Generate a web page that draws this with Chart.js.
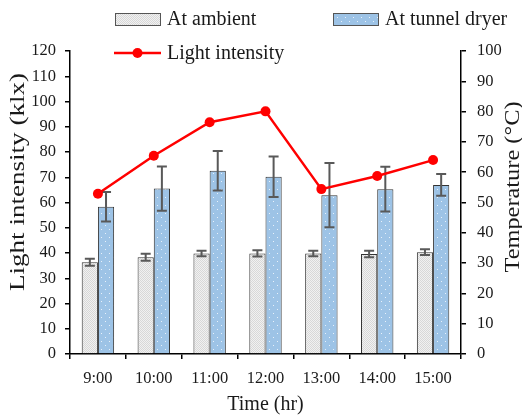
<!DOCTYPE html>
<html>
<head>
<meta charset="utf-8">
<script src="https://cdn.jsdelivr.net/npm/chart.js@4.4.1/dist/chart.umd.min.js"></script>
<style>
  html, body { margin: 0; padding: 0; background: #fff; }
  #wrap { width: 522px; height: 417px; }
</style>
</head>
<body>
<div id="wrap"><canvas id="c" width="522" height="417"></canvas></div>
<script>
// ---- data ----
const categories = ['9:00', '10:00', '11:00', '12:00', '13:00', '14:00', '15:00'];
const ambientTemp = [30.3, 31.9, 33.2, 33.2, 33.2, 33.0, 33.6];
const ambientErr = [1.15, 1.15, 0.9, 1.05, 0.9, 1.05, 0.95];
const tunnelTemp = [48.6, 54.6, 60.5, 58.5, 52.4, 54.4, 55.8];
const tunnelErr = [4.9, 7.3, 6.5, 6.7, 10.6, 7.4, 3.6];
const lightIntensity = [63.5, 78.5, 91.8, 96.1, 65.3, 70.5, 76.8];
const seriesLabels = ['At ambient', 'At tunnel dryer', 'Light intensity'];
const leftAxisTitle = 'Light intensity (klx)';
const rightAxisTitle = 'Temperature (\u00B0C)';
const xAxisTitle = 'Time (hr)';

// ---- patterns ----
function makeAmbientPattern() {
  const p = document.createElement('canvas');
  p.width = 2; p.height = 2;
  const g = p.getContext('2d');
  g.fillStyle = '#f1f1f1'; g.fillRect(0, 0, 2, 2);
  g.fillStyle = '#d8d8d8'; g.fillRect(0, 0, 1, 1); g.fillRect(1, 1, 1, 1);
  return g.createPattern(p, 'repeat');
}
function makeTunnelPattern() {
  const p = document.createElement('canvas');
  p.width = 8; p.height = 8;
  const g = p.getContext('2d');
  g.fillStyle = '#9dc3e6'; g.fillRect(0, 0, 8, 8);
  g.fillStyle = '#e8f1fa'; g.fillRect(1, 1, 1, 1); g.fillRect(5, 5, 1, 1);
  return g.createPattern(p, 'repeat');
}
const ambientFill = makeAmbientPattern();
const tunnelFill = makeTunnelPattern();

const SERIF = 'Liberation Serif';
const tickFont = { family: SERIF, size: 16.5 };
const titleFont = { family: SERIF, size: 20 };
const textColor = '#1a1a1a';

const errorBarPlugin = {
  id: 'errorBars',
  afterDatasetDraw(chart, args) {
    const ds = chart.data.datasets[args.index];
    if (!ds.errors) return;
    const meta = args.meta;
    const yScale = chart.scales[meta.yAxisID];
    const ctx = chart.ctx;
    ctx.save();
    ctx.strokeStyle = '#595959';
    ctx.lineWidth = 2;
    meta.data.forEach((bar, i) => {
      const v = ds.data[i], e = ds.errors[i];
      const x = bar.x;
      const yT = yScale.getPixelForValue(v + e);
      const yB = yScale.getPixelForValue(v - e);
      ctx.beginPath();
      ctx.moveTo(x, yT); ctx.lineTo(x, yB);
      ctx.moveTo(x - 5, yT); ctx.lineTo(x + 5, yT);
      ctx.moveTo(x - 5, yB); ctx.lineTo(x + 5, yB);
      ctx.stroke();
    });
    ctx.restore();
  }
};

function drawRotatedTitle(ctx, text, cx, cy, targetLen) {
  ctx.save();
  ctx.font = '20px "' + SERIF + '"';
  ctx.fillStyle = textColor;
  ctx.textAlign = 'center';
  ctx.textBaseline = 'middle';
  const w = ctx.measureText(text).width;
  ctx.translate(cx, cy);
  ctx.rotate(-Math.PI / 2);
  ctx.scale(targetLen / w, 1);
  ctx.fillText(text, 0, 0);
  ctx.restore();
}

const customLegendPlugin = {
  id: 'customLegend',
  afterDraw(chart) {
    const ctx = chart.ctx;
    const ds = chart.data.datasets;
    ctx.save();
    ctx.font = '20px "' + SERIF + '"';
    ctx.fillStyle = textColor;
    ctx.textBaseline = 'middle';
    const items = [
      { d: ds[0], x: 115, y: 19 },
      { d: ds[1], x: 333, y: 19 }
    ];
    items.forEach(it => {
      ctx.fillStyle = it.d.backgroundColor;
      ctx.fillRect(it.x, it.y - 6, 45, 12);
      ctx.strokeStyle = '#555';
      ctx.lineWidth = 1;
      ctx.strokeRect(it.x + 0.5, it.y - 5.5, 45, 12);
      ctx.fillStyle = textColor;
      ctx.fillText(it.d.label, it.x + 52, it.y + 1);
    });
    const ly = 53;
    ctx.strokeStyle = ds[2].borderColor;
    ctx.lineWidth = 2.5;
    ctx.beginPath(); ctx.moveTo(114, ly); ctx.lineTo(161, ly); ctx.stroke();
    ctx.fillStyle = ds[2].pointBackgroundColor;
    ctx.beginPath(); ctx.arc(137.5, ly, 5, 0, Math.PI * 2); ctx.fill();
    ctx.fillStyle = textColor;
    ctx.fillText(ds[2].label, 167, ly + 1);
    ctx.restore();
    drawRotatedTitle(ctx, leftAxisTitle, 19, 182, 218);
    drawRotatedTitle(ctx, rightAxisTitle, 514, 187, 171);
  }
};

new Chart(document.getElementById('c'), {
  data: {
    labels: categories,
    datasets: [
      {
        type: 'bar', label: seriesLabels[0], data: ambientTemp, errors: ambientErr,
        yAxisID: 'y2', backgroundColor: ambientFill, borderColor: '#333', borderWidth: 1,
        categoryPercentage: 0.58, barPercentage: 1.0, order: 1
      },
      {
        type: 'bar', label: seriesLabels[1], data: tunnelTemp, errors: tunnelErr,
        yAxisID: 'y2', backgroundColor: tunnelFill, borderColor: '#333', borderWidth: 1,
        categoryPercentage: 0.58, barPercentage: 1.0, order: 1
      },
      {
        type: 'line', label: seriesLabels[2], data: lightIntensity, yAxisID: 'y',
        borderColor: '#ff0000', borderWidth: 2.5, pointRadius: 5, pointHoverRadius: 5,
        pointBackgroundColor: '#ff0000', pointBorderColor: '#ff0000', pointBorderWidth: 0,
        tension: 0, fill: false, order: 0
      }
    ]
  },
  options: {
    responsive: false,
    animation: false,
    layout: { padding: { top: 51, left: 0, right: 0, bottom: 0 } },
    plugins: { legend: { display: false }, tooltip: { enabled: false } },
    scales: {
      x: {
        grid: { offset: true, drawOnChartArea: false, drawTicks: true, tickLength: 5, color: '#000', lineWidth: 1.5 },
        border: { color: '#000', width: 1.5 },
        ticks: { color: textColor, font: tickFont, padding: 10 },
        title: { display: true, text: xAxisTitle, color: textColor, font: titleFont, padding: { top: 0, bottom: 0 } },
        afterFit: s => { s.height = 63; }
      },
      y: {
        position: 'left', min: 0, max: 120,
        ticks: { stepSize: 10, color: textColor, font: tickFont, padding: 9 },
        grid: { drawOnChartArea: false, drawTicks: true, tickLength: 5, color: '#000', lineWidth: 1.5 },
        border: { color: '#000', width: 1.5 },
        afterFit: s => { s.width = 70; }
      },
      y2: {
        position: 'right', min: 0, max: 100,
        ticks: { stepSize: 10, color: textColor, font: tickFont, padding: 11 },
        grid: { drawOnChartArea: false, drawTicks: true, tickLength: 5, color: '#000', lineWidth: 1.5 },
        border: { color: '#000', width: 1.5 },
        afterFit: s => { s.width = 61; }
      }
    }
  },
  plugins: [errorBarPlugin, customLegendPlugin]
});
</script>
</body>
</html>
